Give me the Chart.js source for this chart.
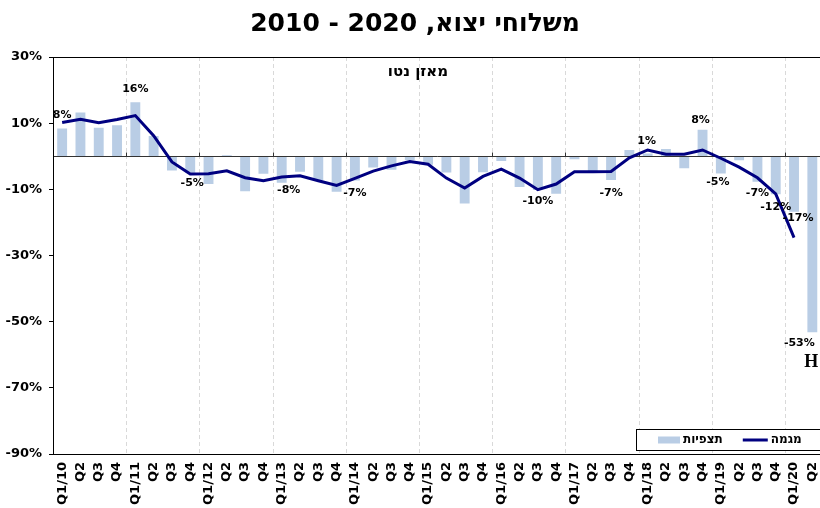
<!DOCTYPE html>
<html>
<head>
<meta charset="utf-8">
<script src="https://cdn.jsdelivr.net/npm/chart.js@4.4.1/dist/chart.umd.min.js"></script>
<style>
  html,body{margin:0;padding:0;overflow:hidden;background:#fff}
  #wrap{width:836px;height:508px}
</style>
</head>
<body>
<div id="wrap"><canvas id="chart" width="836" height="508"></canvas></div>
<script>
/* export shipments - net balance, observations + trend */
const quarters = ['Q1/10','Q2','Q3','Q4','Q1/11','Q2','Q3','Q4','Q1/12','Q2','Q3','Q4',
  'Q1/13','Q2','Q3','Q4','Q1/14','Q2','Q3','Q4','Q1/15','Q2','Q3','Q4',
  'Q1/16','Q2','Q3','Q4','Q1/17','Q2','Q3','Q4','Q1/18','Q2','Q3','Q4',
  'Q1/19','Q2','Q3','Q4','Q1/20','Q2'];

// תצפיות (bars)
const observed = [8.4, 13.2, 8.6, 9.4, 16.3, 6.1, -4.3, -5.0, -8.4, 0.3, -10.6, -5.3,
  -8.0, -4.7, -7.3, -10.7, -7.3, -3.4, -4.1, -1.2, -2.6, -4.9, -14.3, -4.8,
  -1.4, -9.3, -10.2, -11.3, -0.9, -4.8, -7.2, 1.9, 0.8, 2.2, -3.6, 8.0,
  -5.2, -1.2, -7.7, -11.5, -16.8, -53.2];

// מגמה (line)
const trend = [10.2, 11.2, 10.1, 11.1, 12.3, 6.2, -1.7, -5.4, -5.3, -4.4, -6.5, -7.4,
  -6.3, -5.9, -7.4, -8.8, -6.7, -4.5, -2.9, -1.6, -2.4, -6.6, -9.6, -6.1,
  -3.9, -6.6, -10.1, -8.4, -4.7, -4.7, -4.6, -0.5, 1.9, 0.6, 0.6, 1.9,
  -0.6, -3.3, -6.5, -11.4, -24.6, null];

const yTicks = [-90, -70, -50, -30, -10, 10, 30];

// value labels shown on some bars
const labelIdx  = [0, 4, 7, 12, 16, 26, 30, 32, 35, 36, 38, 39, 40, 41];
const labelText = ['8%','16%','-5%','-8%','-7%','-10%','-7%','1%','8%','-5%','-7%','-12%','-17%','-53%'];
// nudges for the labels (px): horizontal shift, gap from bar end
const labelDx  = [0, 0, 2, 7, 0, 0, 0, -1, -2, -3, 0, 0, 4, -13];
const labelGap = [13, 13, 10, 7, 13, 11, 13, 12, 10, 9, 11, 13, 6, 11];

const TITLE = 'משלוחי יצוא, 2020 - 2010';
const SUBTITLE = 'מאזן נטו';
const FONT = '"DejaVu Sans", "Liberation Sans", sans-serif';
const BAR_COLOR = '#b9cde5';
const LINE_COLOR = '#000080';

const decor = {
  id: 'decor',
  beforeDatasetsDraw(chart){
    const {ctx, chartArea:a, scales:{x}} = chart;
    ctx.save();
    ctx.strokeStyle = '#d9d9d9';
    ctx.lineWidth = 1;
    ctx.setLineDash([4,3]);
    for(let i=4;i<quarters.length;i+=4){
      const gx = Math.round((x.getPixelForValue(i-1)+x.getPixelForValue(i))/2)+0.5;
      ctx.beginPath(); ctx.moveTo(gx, a.top); ctx.lineTo(gx, a.bottom); ctx.stroke();
    }
    ctx.restore();
  },
  afterDatasetDraw(chart, args){
    if(args.index !== 0) return; // right after the bars, under the trend line
    const {ctx, chartArea:a, scales:{x,y}} = chart;
    const zy = Math.round(y.getPixelForValue(0))+0.5;
    ctx.save();
    ctx.strokeStyle = '#333';
    ctx.lineWidth = 1;
    ctx.beginPath(); ctx.moveTo(a.left, zy); ctx.lineTo(a.right, zy); ctx.stroke();
    for(let i=4;i<quarters.length;i+=4){
      const gx = Math.round((x.getPixelForValue(i-1)+x.getPixelForValue(i))/2)+0.5;
      ctx.beginPath(); ctx.moveTo(gx, zy); ctx.lineTo(gx, zy-4); ctx.stroke();
    }
    ctx.restore();
  },
  afterDatasetsDraw(chart){
    const {ctx, chartArea:a, scales:{x,y}} = chart;
    ctx.save();
    // plot frame
    ctx.strokeStyle = '#000';
    ctx.lineWidth = 1;
    ctx.strokeRect(Math.round(a.left)+0.5, Math.round(a.top)+0.5, Math.round(a.right-a.left), Math.round(a.bottom-a.top));

    // subtitle inside plot
    ctx.fillStyle = '#000';
    ctx.font = 'bold 15px ' + FONT;
    ctx.textAlign = 'center';
    ctx.textBaseline = 'middle';
    ctx.fillText(SUBTITLE, chart.width/2, a.top + 15);

    // value labels
    ctx.font = 'bold 11px ' + FONT;
    labelIdx.forEach((idx, k) => {
      const v = observed[idx];
      const px = x.getPixelForValue(idx) + labelDx[k];
      const end = y.getPixelForValue(v);
      const py = v >= 0 ? end - labelGap[k] : end + labelGap[k];
      ctx.fillText(labelText[k], px, py);
    });

    // stray letter cut at the right edge
    const last = quarters.length-1;
    ctx.font = 'bold 18px "Liberation Serif", serif';
    ctx.textAlign = 'left';
    ctx.fillText('H', x.getPixelForValue(last) - 8, y.getPixelForValue(observed[last]) + 30);

    // legend box in the lower right corner
    const bx = 636, bb = a.bottom - 4, bt = bb - 21;
    ctx.fillStyle = '#fff';
    ctx.fillRect(bx, bt, a.right - bx, bb - bt);
    ctx.strokeStyle = '#000';
    ctx.strokeRect(bx+0.5, bt+0.5, a.right - bx, bb - bt);
    const my = (bt + bb)/2 + 0.5;
    ctx.font = 'bold 12px ' + FONT;
    ctx.textBaseline = 'middle';
    let cx = bx + 22;
    const ds = chart.data.datasets;
    ctx.fillStyle = ds[0].backgroundColor;
    ctx.fillRect(cx, my-3.5, 22, 7);
    cx += 25;
    ctx.fillStyle = '#000';
    ctx.fillText(ds[0].label, cx, my);
    cx += ctx.measureText(ds[0].label).width + 20;
    ctx.strokeStyle = ds[1].borderColor;
    ctx.lineWidth = 3;
    ctx.beginPath(); ctx.moveTo(cx, my); ctx.lineTo(cx+25, my); ctx.stroke();
    cx += 28;
    ctx.fillText(ds[1].label, cx, my);
    ctx.restore();
  }
};

new Chart(document.getElementById('chart'), {
  data: {
    labels: quarters,
    datasets: [
      {
        type: 'bar',
        label: 'תצפיות',
        data: observed,
        backgroundColor: BAR_COLOR,
        barPercentage: 0.54,
        categoryPercentage: 1,
        order: 2
      },
      {
        type: 'line',
        label: 'מגמה',
        data: trend,
        borderColor: LINE_COLOR,
        borderWidth: 3,
        pointRadius: 0,
        tension: 0,
        fill: false,
        order: 1
      }
    ]
  },
  options: {
    responsive: false,
    animation: false,
    layout: { padding: { left: 0, right: 6, top: 0, bottom: 0 } },
    plugins: {
      legend: { display: false },
      tooltip: { enabled: false },
      title: {
        display: true,
        text: TITLE,
        color: '#000',
        font: { family: FONT, size: 25, weight: 'bold', lineHeight: 1.2 },
        padding: { top: 9, bottom: 18 }
      }
    },
    scales: {
      x: {
        type: 'category',
        offset: true,
        grid: { display: false, drawTicks: false },
        border: { display: true, color: '#000', width: 1 },
        ticks: {
          autoSkip: false,
          maxRotation: 90,
          minRotation: 90,
          padding: 8,
          color: '#000',
          font: { family: FONT, size: 13, weight: 'bold' }
        },
        afterFit: s => { s.height = 54; }
      },
      y: {
        min: -90,
        max: 30,
        afterBuildTicks: s => { s.ticks = yTicks.map(v => ({value: v})); },
        grid: { drawOnChartArea: false, drawTicks: true, tickLength: 4, color: '#000' },
        border: { display: true, color: '#000', width: 1 },
        ticks: {
          padding: 7,
          color: '#000',
          font: { family: FONT, size: 13, weight: 'bold' },
          callback: v => v + '%'
        },
        afterFit: s => { s.width = 53; }
      }
    }
  },
  plugins: [decor]
});
</script>
</body>
</html>
